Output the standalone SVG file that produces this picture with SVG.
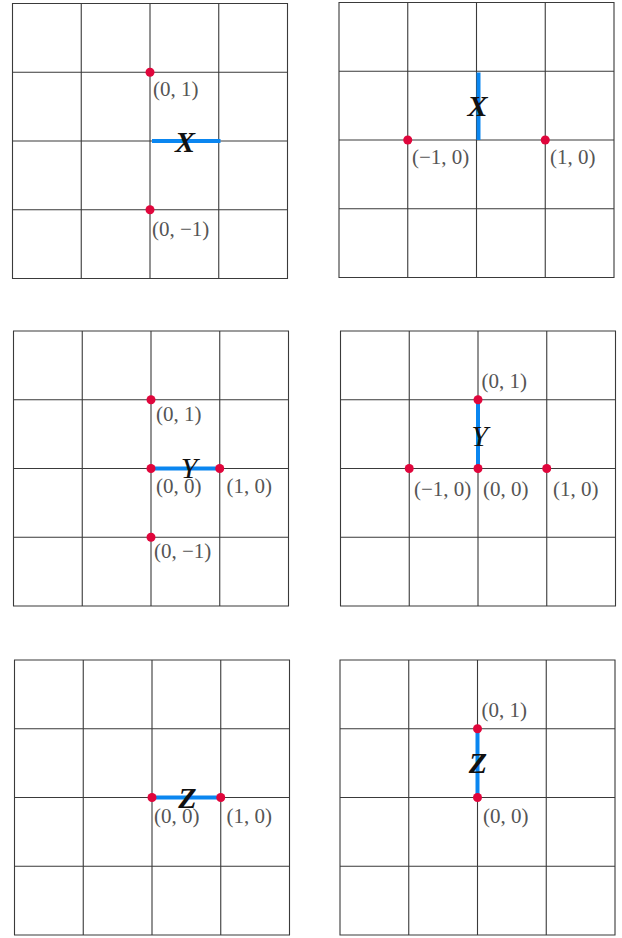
<svg xmlns="http://www.w3.org/2000/svg" xmlns:xlink="http://www.w3.org/1999/xlink" width="622" height="938" viewBox="0 0 622 938">
<style>
.grid{fill:none;stroke:#3a3a3a;stroke-width:1.1}
.edge{stroke:#0a86f0;stroke-width:4;stroke-linecap:butt;fill:none}
.dot{fill:#e0063c}
.lbl{font-family:"Liberation Serif","Times New Roman",serif;font-size:21px;fill:#555}
.op{font-family:"Liberation Serif","Times New Roman",serif;font-size:30px;font-style:italic;fill:#111;text-anchor:middle}
.b{font-weight:bold}
</style>
<defs>
<path id="g" class="grid" d="M0,0H275V275H0Z M68.75,0V275 M137.5,0V275 M206.25,0V275 M0,68.75H275 M0,137.5H275 M0,206.25H275"/>
</defs>
<rect width="622" height="938" fill="#fff"/>
<g id="panel-x-horizontal" transform="translate(12.5,3.5)">
<use xlink:href="#g" href="#g"/>
<g class="connectors"><line class="edge" x1="139.5" y1="137.5" x2="208" y2="137.5"/></g>
<circle class="dot" cx="137.5" cy="68.75" r="4.5"/>
<circle class="dot" cx="137.5" cy="206.25" r="4.5"/>
<text class="lbl" x="140.5" y="92.5">(0, 1)</text>
<text class="lbl" x="139.5" y="232.5">(0, −1)</text>
<text class="op b" x="172.5" y="148.5">X</text>
</g>
<g id="panel-x-vertical" transform="translate(339,2.5)">
<use xlink:href="#g" href="#g"/>
<g class="connectors"><line class="edge" x1="139.5" y1="70" x2="139.5" y2="137.5"/></g>
<circle class="dot" cx="68.75" cy="137.5" r="4.5"/>
<circle class="dot" cx="206.25" cy="137.5" r="4.5"/>
<text class="lbl" x="73" y="161.5">(−1, 0)</text>
<text class="lbl" x="211" y="161.5">(1, 0)</text>
<text class="op b" x="138.5" y="113.5">X</text>
</g>
<g id="panel-y-horizontal" transform="translate(13.5,331)">
<use xlink:href="#g" href="#g"/>
<g class="connectors"><line class="edge" x1="137.5" y1="137.5" x2="206.25" y2="137.5"/></g>
<circle class="dot" cx="137.5" cy="68.75" r="4.5"/>
<circle class="dot" cx="137.5" cy="137.5" r="4.5"/>
<circle class="dot" cx="206.25" cy="137.5" r="4.5"/>
<circle class="dot" cx="137.5" cy="206.25" r="4.5"/>
<text class="lbl" x="142.5" y="90">(0, 1)</text>
<text class="lbl" x="142.5" y="162">(0, 0)</text>
<text class="lbl" x="213" y="162">(1, 0)</text>
<text class="lbl" x="140.5" y="227">(0, −1)</text>
<text class="op" x="175.5" y="147">Y</text>
</g>
<g id="panel-y-vertical" transform="translate(340.5,331)">
<use xlink:href="#g" href="#g"/>
<g class="connectors"><line class="edge" x1="137.5" y1="68.75" x2="137.5" y2="137.5"/></g>
<circle class="dot" cx="137.5" cy="68.75" r="4.5"/>
<circle class="dot" cx="68.75" cy="137.5" r="4.5"/>
<circle class="dot" cx="137.5" cy="137.5" r="4.5"/>
<circle class="dot" cx="206.25" cy="137.5" r="4.5"/>
<text class="lbl" x="141" y="57">(0, 1)</text>
<text class="lbl" x="73.5" y="165">(−1, 0)</text>
<text class="lbl" x="142.5" y="165">(0, 0)</text>
<text class="lbl" x="212.5" y="165">(1, 0)</text>
<text class="op" x="139" y="115">Y</text>
</g>
<g id="panel-z-horizontal" transform="translate(14.5,660)">
<use xlink:href="#g" href="#g"/>
<g class="connectors"><line class="edge" x1="137.5" y1="137.5" x2="206.25" y2="137.5"/></g>
<circle class="dot" cx="137.5" cy="137.5" r="4.5"/>
<circle class="dot" cx="206.25" cy="137.5" r="4.5"/>
<text class="lbl" x="139.5" y="163">(0, 0)</text>
<text class="lbl" x="212" y="163">(1, 0)</text>
<text class="op b" x="173" y="148">Z</text>
</g>
<g id="panel-z-vertical" transform="translate(340,660)">
<use xlink:href="#g" href="#g"/>
<g class="connectors"><line class="edge" x1="137.5" y1="68.75" x2="137.5" y2="137.5"/></g>
<circle class="dot" cx="137.5" cy="68.75" r="4.5"/>
<circle class="dot" cx="137.5" cy="137.5" r="4.5"/>
<text class="lbl" x="141.5" y="57">(0, 1)</text>
<text class="lbl" x="143" y="163">(0, 0)</text>
<text class="op b" x="138" y="113">Z</text>
</g>
</svg>
